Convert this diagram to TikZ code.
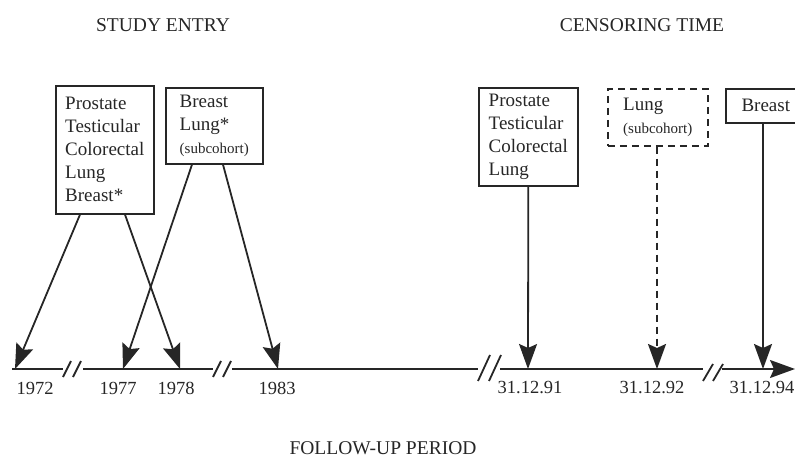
\documentclass[tikz,border=0pt]{standalone}
\usepackage{fontspec}
\setmainfont{Liberation Serif}
\usetikzlibrary{arrows.meta}

\begin{document}
\begin{tikzpicture}[x=1pt,y=-1pt,black!85,
  box node/.style={draw,line width=1.6pt,rectangle,anchor=north west,align=left,inner sep=0pt,font=\fontsize{19}{23}\selectfont},
  lbl node/.style={font=\fontsize{18.5}{22}\selectfont},
  head node/.style={font=\fontsize{19.5}{23}\selectfont},
  axis line/.style={line width=1.8pt},
  arr/.style={line width=1.8pt,-{Stealth[length=25pt,width=18pt,inset=4pt]}}]

\useasboundingbox (0,0) rectangle (795,462);

\node[head node] (entry) at (163,25) {STUDY ENTRY};
\node[head node] (cens) at (642,25) {CENSORING TIME};
\node[head node] (fup) at (383,448) {FOLLOW-UP PERIOD};

\node[box node,minimum width=98pt,minimum height=128pt] (p1) at (55,85) {Prostate\\Testicular\\Colorectal\\Lung\\Breast*};
\node[box node,minimum width=97pt,minimum height=76pt] (p2) at (165,87) {Breast\\Lung*\\{\fontsize{15}{18}\selectfont (subcohort)}};
\node[box node,minimum width=99pt,minimum height=98pt] (c1) at (478,87) {Prostate\\Testicular\\Colorectal\\Lung};
\node[box node,dash pattern=on 7pt off 5pt,minimum width=100pt,minimum height=57pt] (c2) at (607,88) {Lung\\{\fontsize{15}{18}\selectfont (subcohort)}};
\node[box node,minimum width=80pt,minimum height=34pt] (c3) at (725,88) {Breast};

\coordinate (a0) at (12,369);
\coordinate (t72) at (15,369);
\coordinate (t77) at (123,369);
\coordinate (t78) at (180,369);
\coordinate (t83) at (278,369);
\coordinate (t91) at (528,369);
\coordinate (t92) at (657,369);
\coordinate (t94) at (763,369);
\coordinate (g1l) at (63,369);
\coordinate (g1r) at (83,369);
\coordinate (g2l) at (213,369);
\coordinate (g2r) at (232,369);
\coordinate (g3l) at (478,369);
\coordinate (g3r) at (500,369);
\coordinate (g4l) at (703,369);
\coordinate (g4r) at (722,369);
\coordinate (aend) at (795,369);

\draw[axis line] (a0) -- (g1l);
\draw[axis line] (g1r) -- (g2l);
\draw[axis line] (g2r) -- (g3l);
\draw[axis line] (g3r) -- (g4l);
\draw[arr] (g4r) -- (aend);

% breaks
\foreach \x in {67,77,217,227}
  \draw[axis line] (\x-4,377) -- (\x+4,361);
\foreach \x in {484,495}
  \draw[axis line] (\x-6,381) -- (\x+6,355);
\foreach \x in {708,718}
  \draw[axis line] (\x-5,381) -- (\x+5,364);

\draw[arr] ([xshift=25pt]p1.south west) -- (t72);
\draw[arr] ([xshift=70pt]p1.south west) -- (t78);
\draw[arr] ([xshift=27pt]p2.south west) -- (t77);
\draw[arr] ([xshift=58pt]p2.south west) -- (t83);
\draw[arr] (c1.south) -- (t91);
\draw[arr,dash pattern=on 7pt off 5pt] ([xshift=50pt]c2.south west) -- (t92);
\draw[arr] ([xshift=38pt]c3.south west) -- (t94);

\node[lbl node] (l72) at (35,388) {1972};
\node[lbl node] (l77) at (118,388) {1977};
\node[lbl node] (l78) at (176,388) {1978};
\node[lbl node] (l83) at (277,388) {1983};
\node[lbl node] (l91) at (530,388) {31.12.91};
\node[lbl node] (l92) at (652,388) {31.12.92};
\node[lbl node] (l94) at (762,388) {31.12.94};
\end{tikzpicture}
\end{document}
